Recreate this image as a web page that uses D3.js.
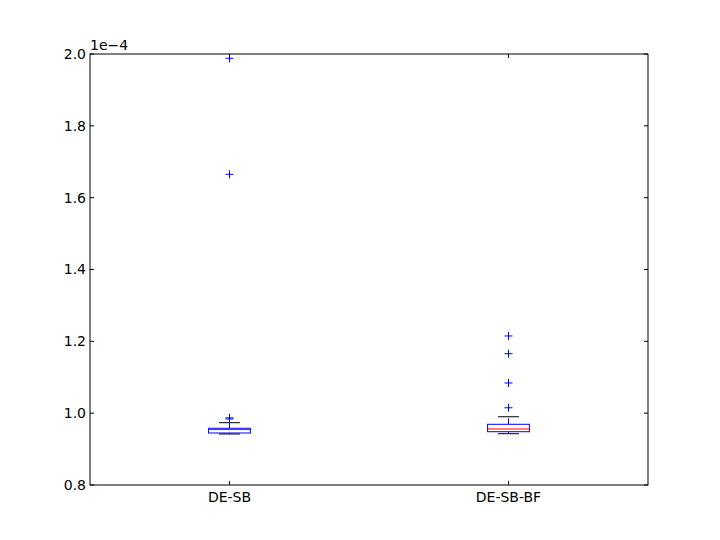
<!DOCTYPE html>
<html><head><meta charset="utf-8">
<script src="https://cdn.jsdelivr.net/npm/d3@7"></script>
<style>body{margin:0;background:#fff}svg text{font-family:"DejaVu Sans",sans-serif}</style>
</head><body><svg id="c" width="720" height="540"></svg>
<script>
const categories = ["DE-SB", "DE-SB-BF"];
// box stats in units of 1e-4
const lowerWhisker = [0.9420, 0.9428];
const q1 = [0.9448, 0.9484];
const medians = [0.9545, 0.9560];
const q3 = [0.9580, 0.9690];
const upperWhisker = [0.9735, 0.9900];
const fliers = [[0.9838, 0.9870, 1.665, 1.988], [1.0150, 1.0840, 1.1656, 1.2150]];
const yTicks = [0.8, 1.0, 1.2, 1.4, 1.6, 1.8, 2.0];
const offsetLabel = "1e\u22124";

const svg = d3.select("#c");
const L = 90, R = 648, T = 54, B = 485;
const x = d3.scaleLinear().domain([0.5, 2.5]).range([L, R]);
const y = d3.scaleLinear().domain([0.8, 2.0]).range([B, T]);
const boxW = 0.15, capW = 0.075;

const g = svg.append("g");
categories.forEach((c, i) => {
  const p = i + 1;
  // whiskers
  g.append("line").attr("x1", x(p)).attr("x2", x(p)).attr("y1", y(q3[i])).attr("y2", y(upperWhisker[i]))
    .attr("stroke", "#0000ff").attr("stroke-dasharray", "6,6");
  g.append("line").attr("x1", x(p)).attr("x2", x(p)).attr("y1", y(q1[i])).attr("y2", y(lowerWhisker[i]))
    .attr("stroke", "#0000ff").attr("stroke-dasharray", "6,6");
  // caps
  [upperWhisker[i], lowerWhisker[i]].forEach(v => {
    g.append("line").attr("x1", x(p - capW / 2 * 2 / 2 * 2 / 2)).attr("x2", x(p + capW / 2))
      .attr("x1", x(p - capW / 2)).attr("y1", y(v)).attr("y2", y(v)).attr("stroke", "#000");
  });
  // box
  g.append("rect").attr("x", x(p - boxW / 2)).attr("width", x(p + boxW / 2) - x(p - boxW / 2))
    .attr("y", y(q3[i])).attr("height", y(q1[i]) - y(q3[i]))
    .attr("fill", "none").attr("stroke", "#0000ff");
  // median
  g.append("line").attr("x1", x(p - boxW / 2)).attr("x2", x(p + boxW / 2))
    .attr("y1", y(medians[i])).attr("y2", y(medians[i])).attr("stroke", "#ff0000");
  // fliers
  fliers[i].forEach(v => {
    g.append("path").attr("d", `M${x(p) - 4},${y(v)}H${x(p) + 4}M${x(p)},${y(v) - 4}V${y(v) + 4}`)
      .attr("stroke", "#0000ff").attr("fill", "none");
  });
});

// frame
svg.append("rect").attr("x", L).attr("y", T).attr("width", R - L).attr("height", B - T)
  .attr("fill", "none").attr("stroke", "#000");

// y ticks (inward, both sides)
yTicks.forEach(t => {
  svg.append("line").attr("x1", L).attr("x2", L + 4).attr("y1", y(t)).attr("y2", y(t)).attr("stroke", "#000");
  svg.append("line").attr("x1", R).attr("x2", R - 4).attr("y1", y(t)).attr("y2", y(t)).attr("stroke", "#000");
  svg.append("text").attr("x", L - 4).attr("y", y(t)).attr("dy", "0.35em").attr("text-anchor", "end")
    .attr("font-size", 14).text(t.toFixed(1));
});
// x ticks
categories.forEach((c, i) => {
  const p = i + 1;
  svg.append("line").attr("x1", x(p)).attr("x2", x(p)).attr("y1", B).attr("y2", B - 4).attr("stroke", "#000");
  svg.append("line").attr("x1", x(p)).attr("x2", x(p)).attr("y1", T).attr("y2", T + 4).attr("stroke", "#000");
  svg.append("text").attr("x", x(p)).attr("y", B + 17).attr("text-anchor", "middle").attr("font-size", 14).text(c);
});
svg.append("text").attr("x", L).attr("y", T - 4).attr("font-size", 14).text(offsetLabel);
</script></body></html>
